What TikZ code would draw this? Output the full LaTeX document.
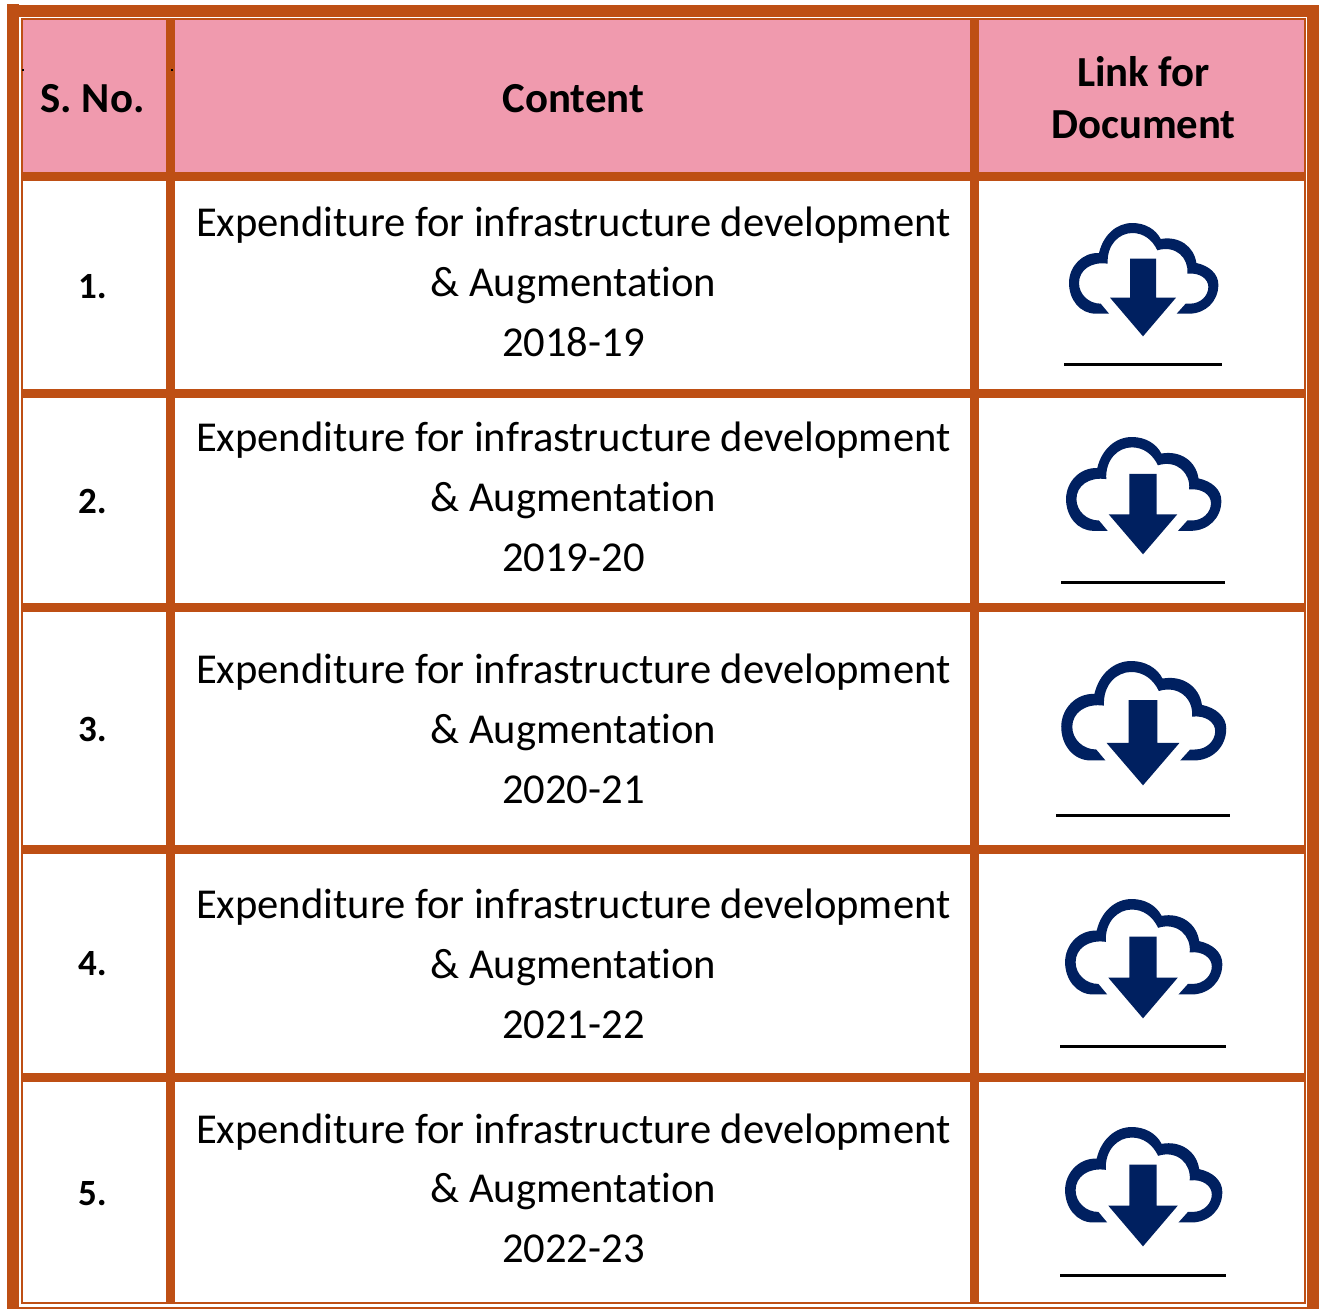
\documentclass[tikz,border=0pt]{standalone}
\usepackage{fontspec}
\setmainfont[Ligatures=NoCommon]{Carlito}
\definecolor{frame}{RGB}{190,79,20}
\definecolor{headpink}{RGB}{240,154,174}
\definecolor{navy}{RGB}{0,32,96}
\tikzset{
  bar/.style={fill=frame,draw=none},
  body/.style={font=\fontsize{42.6}{50}\selectfont,anchor=base,inner sep=0pt,text=black},
  head/.style={font=\fontsize{42.8}{50}\selectfont\bfseries,anchor=base,inner sep=0pt,text=black},
  num/.style={font=\fontsize{37}{44}\selectfont\bfseries,anchor=base,inner sep=0pt,text=black},
  rule/.style={draw=black,line width=3pt},
  icon/.style={fill=navy,draw=none}
}
% #1 centre x, #2 top y, #3 x scale, #4 y scale (icon drawn in zoom units, 1/3 px)
\newcommand{\cloudicon}[4]{%
  \begin{scope}[shift={(#1pt,-#2pt)},x=#3pt/3,y=-#4pt/3,shift={(-307,-70)}]
    \fill[icon] (205,342) -- (165,342)
      .. controls (118,342) and (85,300) .. (85,250)
      .. controls (85,200) and (125,158) .. (175,160)
      .. controls (188,105) and (228,70) .. (275,70)
      .. controls (312,70) and (345,88) .. (360,118)
      .. controls (415,108) and (460,140) .. (467,190)
      .. controls (505,198) and (533,222) .. (533,255)
      .. controls (533,305) and (495,342) .. (445,342)
      -- (408,342) -- (435,312) -- (448,312)
      .. controls (480,312) and (503,288) .. (503,262)
      .. controls (503,238) and (478,218) .. (440,222)
      .. controls (445,175) and (405,135) .. (350,152)
      .. controls (335,120) and (308,100) .. (275,100)
      .. controls (235,100) and (198,135) .. (201,192)
      .. controls (150,185) and (115,212) .. (115,250)
      .. controls (115,285) and (145,312) .. (180,312) -- cycle;
    \fill[icon] (268,177) -- (346,177) -- (346,294) -- (406,294) -- (307,410) -- (208,294) -- (268,294) -- cycle;
  \end{scope}}
\begin{document}
\begin{tikzpicture}[x=1pt,y=-1pt]
\useasboundingbox (0,0) rectangle (1319,1309);
\fill[white] (0,0) rectangle (1319,1309);
% header
\fill[headpink] (23,20) rectangle (1304,172);
% outer frame
\fill[bar] (7,4) rectangle (19,1309);
\fill[bar] (7,5) rectangle (1319,17);
\fill[bar] (1307,5) rectangle (1319,1309);
\fill[bar] (7,1307) rectangle (1319,1309);
% inner thin frame
\fill[bar] (21,18) rectangle (1306,20);
\fill[bar] (21,18) rectangle (23,1304);
\fill[bar] (1304,18) rectangle (1306,1304);
\fill[bar] (21,1302) rectangle (1306,1304);
% columns
\fill[bar] (166,20) rectangle (175,1302);
\fill[bar] (970,20) rectangle (979,1302);
% rows
\foreach \ya/\yb in {172/181,389/398,603/612,845/854,1073/1082}
  \fill[bar] (23,\ya) rectangle (1304,\yb);
% specks
\fill[black] (22,69) rectangle (24,71);
\fill[black] (171,69) rectangle (173,71);
% header text
\node[head] (hsno) at (92.5,112) {S. No.};
\node[head] (hcontent) at (573.3,112) {Content};
\node[head] (hlink1) at (1143.5,86) {Link for};
\node[head] (hlink2) at (1143.5,138) {Document};
% rows text
\foreach \n/\num/\yr/\ya/\yb/\yc/\ynum in {
  a/1./2018-19/236.7/296.7/356.7/298,
  b/2./2019-20/451.7/511.7/571.7/513,
  c/3./2020-21/683.7/743.7/803.7/741,
  d/4./2021-22/918.7/978.7/1038.7/975,
  e/5./2022-23/1143.7/1202.7/1262.7/1205}{
  \node[num] (num\n) at (92.5,\ynum) {\num};
  \node[body] (l1\n) at (573.3,\ya) {Expenditure for infrastructure development};
  \node[body] (l2\n) at (573.3,\yb) {\&\ Augmentation};
  \node[body] (l3\n) at (573.3,\yc) {\yr};
}
% icons
\cloudicon{1143}{223}{1}{1}
\cloudicon{1143}{437}{1.04}{1.035}
\cloudicon{1143}{661}{1.105}{1.097}
\cloudicon{1143}{899}{1.053}{1.053}
\cloudicon{1143}{1127}{1.053}{1.053}
% underlines
\foreach \xa/\xb/\yy in {1064/1222/364.5,1061/1225/582.5,1056/1230/815.5,1060/1226/1046.5,1060/1226/1275.5}
  \draw[rule] (\xa,\yy) -- (\xb,\yy);
\end{tikzpicture}
\end{document}
